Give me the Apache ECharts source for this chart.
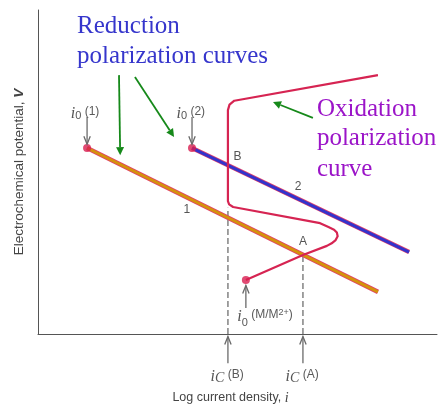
<!DOCTYPE html>
<html>
<head>
<meta charset="utf-8">
<script src="https://cdn.jsdelivr.net/npm/echarts@6/dist/echarts.min.js"></script>
<style>
  html, body { margin: 0; padding: 0; background: #fff; }
  #chart { width: 438px; height: 404px; }
</style>
</head>
<body>
<div id="chart"></div>
<script>
// axis units are arbitrary (log i across, potential up), 0..10 on both
var line1 = [[1.23, 5.74], [8.52, 1.30]];
var line2 = [[3.86, 5.74], [9.30, 2.53]];
var oxidation = [
  [5.21, 1.67], [6.64, 2.44], [7.24, 2.72], [7.36, 2.80], [7.46, 2.90], [7.51, 3.02],
  [7.49, 3.13], [7.42, 3.22], [7.28, 3.30], [7.07, 3.42], [4.89, 3.92], [4.79, 4.00],
  [4.76, 4.10], [4.76, 6.91], [4.80, 7.08], [4.92, 7.20], [8.52, 7.99]
];
var startDots = [[1.23, 5.74], [3.86, 5.74], [5.21, 1.67]];
var dashB = [[4.76, 0], [4.76, 3.90]];
var dashA = [[6.64, 0], [6.64, 2.40]];

// [x1, y1, x2, y2]
var grayArrows = [
  [1.23, 6.70, 1.23, 5.86],
  [3.86, 6.70, 3.86, 5.86],
  [5.21, 0.80, 5.21, 1.50],
  [4.76, -0.90, 4.76, -0.08],
  [6.64, -0.90, 6.64, -0.08]
];
var greenArrows = [
  [2.03, 7.99, 2.06, 5.52],
  [2.43, 7.93, 3.41, 6.08],
  [6.89, 6.67, 5.89, 7.16]
];

// labels: [x, y], text and style name kept side by side
var labelPos = [
  [0.98, 9.48], [0.98, 8.58],
  [6.99, 6.94], [6.99, 6.05], [6.99, 5.09],
  [5.00, 5.46], [6.64, 2.84], [3.73, 3.83], [6.52, 4.54],
  [1.18, 6.80], [3.83, 6.80], [5.69, 0.48],
  [4.74, -1.33], [6.62, -1.33]
];
var labelText = [
  'Reduction', 'polarization curves',
  'Oxidation', 'polarization', 'curve',
  'B', 'A', '1', '2',
  '{i|i}{s|0} {p|(1)}', '{i|i}{s|0} {p|(2)}', '{i|i}{s|0} {p|(M/M}{sup|2+}{p|)}',
  '{i|i}{c|C} {p|(B)}', '{i|i}{c|C} {p|(A)}'
];
var labelKind = [
  'blue', 'blue',
  'purple', 'purple', 'purple',
  'small', 'small', 'small', 'small',
  'rich', 'rich', 'rich',
  'rich', 'rich'
];

var richStyles = {
  i: { fontFamily: 'Liberation Serif', fontStyle: 'italic', fontSize: 16, fill: '#555', verticalAlign: 'top', lineHeight: 16 },
  s: { fontFamily: 'Liberation Sans', fontSize: 11, fill: '#555', verticalAlign: 'bottom', lineHeight: 11 },
  c: { fontFamily: 'Liberation Serif', fontStyle: 'italic', fontSize: 14, fill: '#555', verticalAlign: 'bottom', lineHeight: 12 },
  p: { fontFamily: 'Liberation Sans', fontSize: 12, fill: '#5a5a5a', verticalAlign: 'top', lineHeight: 16 },
  sup: { fontFamily: 'Liberation Sans', fontSize: 9, fill: '#5a5a5a', verticalAlign: 'top', lineHeight: 20 }
};

function arrowItem(color, filled) {
  return function (params, api) {
    var p1 = api.coord([api.value(0), api.value(1)]);
    var p2 = api.coord([api.value(2), api.value(3)]);
    var ang = Math.atan2(p2[1] - p1[1], p2[0] - p1[0]);
    var L = 8, W = filled ? 4 : 3.2;
    var back = [p2[0] - L * Math.cos(ang), p2[1] - L * Math.sin(ang)];
    var left = [back[0] + W * Math.sin(ang), back[1] - W * Math.cos(ang)];
    var right = [back[0] - W * Math.sin(ang), back[1] + W * Math.cos(ang)];
    var head = filled
      ? { type: 'polygon', shape: { points: [p2, left, right] }, style: { fill: color } }
      : { type: 'polyline', shape: { points: [left, p2, right] }, style: { stroke: color, lineWidth: 1.3, fill: null } };
    var end = filled ? back : p2;
    return {
      type: 'group',
      children: [
        { type: 'line', shape: { x1: p1[0], y1: p1[1], x2: end[0], y2: end[1] }, style: { stroke: color, lineWidth: filled ? 1.8 : 1.3 } },
        head
      ]
    };
  };
}

function labelItem(params, api) {
  var p = api.coord([api.value(0), api.value(1)]);
  var kind = labelKind[params.dataIndex];
  var txt = labelText[params.dataIndex];
  var style = { text: txt, x: p[0], y: p[1], verticalAlign: 'middle' };
  if (kind === 'blue' || kind === 'purple') {
    style.align = 'left';
    style.font = '25px "Liberation Serif", "Times New Roman", serif';
    style.fill = kind === 'blue' ? '#3636cc' : '#9b14c8';
  } else if (kind === 'small') {
    style.align = 'center';
    style.font = '12px "Liberation Sans", Arial, sans-serif';
    style.fill = '#555';
  } else {
    style.align = 'center';
    style.rich = richStyles;
  }
  return { type: 'text', style: style };
}

var chart = echarts.init(document.getElementById('chart'));
chart.setOption({
  animation: false,
  grid: { left: 38, right: 1, top: 10, bottom: 70, outerBoundsMode: 'none' },
  xAxis: {
    type: 'value', min: 0, max: 10,
    name: 'Log current density, {it|i}',
    nameLocation: 'middle', nameGap: 57,
    nameTextStyle: {
      fontFamily: 'Liberation Sans', fontSize: 12.5, color: '#444', padding: [0, 14, 0, 0],
      rich: { it: { fontFamily: 'Liberation Serif', fontStyle: 'italic', fontSize: 14, color: '#444' } }
    },
    axisLine: { lineStyle: { color: '#555', width: 1 } },
    axisTick: { show: false }, axisLabel: { show: false }, splitLine: { show: false }
  },
  yAxis: {
    type: 'value', min: 0, max: 10,
    name: 'Electrochemical potential, {b|V}',
    nameLocation: 'middle', nameGap: 12, nameRotate: 90,
    nameTextStyle: {
      fontFamily: 'Liberation Sans', fontSize: 13.5, color: '#444',
      rich: { b: { fontFamily: 'Liberation Sans', fontWeight: 'bold', fontStyle: 'italic', fontSize: 13.5, color: '#444' } }
    },
    axisLine: { lineStyle: { color: '#555', width: 1 } },
    axisTick: { show: false }, axisLabel: { show: false }, splitLine: { show: false }
  },
  series: [
    { type: 'line', data: dashB, symbol: 'none', lineStyle: { color: '#8a8a8a', width: 1.6, type: [6, 3] }, z: 1 },
    { type: 'line', data: dashA, symbol: 'none', lineStyle: { color: '#8a8a8a', width: 1.6, type: [6, 3] }, z: 1 },
    { type: 'line', data: line1, symbol: 'none', lineStyle: { color: '#e0406a', width: 4.5 }, z: 2 },
    { type: 'line', data: line1, symbol: 'none', lineStyle: { color: '#d4920c', width: 3 }, z: 3 },
    { type: 'line', data: line2, symbol: 'none', lineStyle: { color: '#e0406a', width: 4.5 }, z: 2 },
    { type: 'line', data: line2, symbol: 'none', lineStyle: { color: '#3333cc', width: 3 }, z: 3 },
    { type: 'line', data: oxidation, symbol: 'none', lineStyle: { color: '#d62452', width: 2.2, join: 'round' }, z: 4 },
    { type: 'scatter', data: startDots, symbolSize: 8, itemStyle: { color: '#d81e50' }, z: 5 },
    { type: 'custom', data: grayArrows, renderItem: arrowItem('#6a6a6a', false), clip: false, z: 6 },
    { type: 'custom', data: greenArrows, renderItem: arrowItem('#16891a', true), clip: false, z: 6 },
    { type: 'custom', data: labelPos, renderItem: labelItem, clip: false, z: 7 }
  ]
});
</script>
</body>
</html>
